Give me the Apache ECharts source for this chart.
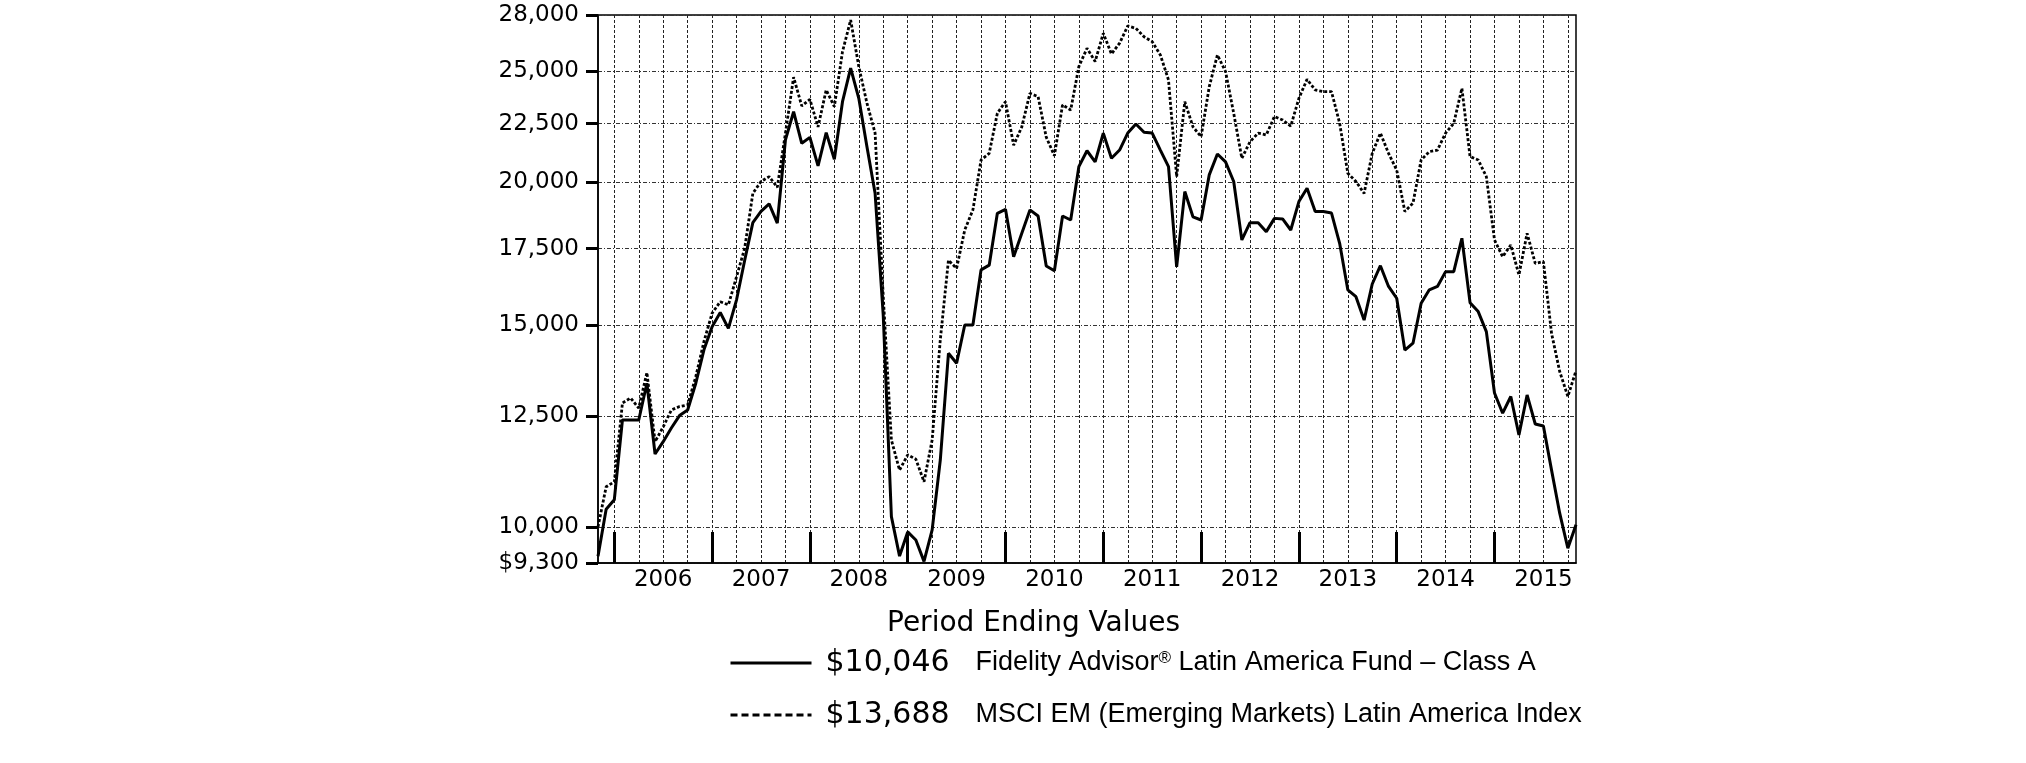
<!DOCTYPE html>
<html>
<head>
<meta charset="utf-8">
<script src="https://cdn.jsdelivr.net/npm/echarts@6/dist/echarts.min.js"></script>
<style>
html,body{margin:0;padding:0;background:#fff;}
#chart{width:2026px;height:763px;}
</style>
</head>
<body>
<div id="chart"></div>
<script>
// Monthly period ends, Oct 2005 .. Oct 2015
const startYear = 2005, startMonth = 10, monthCount = 121;
const categories = [];
for (let i = 0; i < monthCount; i++) {
  const m = ((startMonth - 1 + i) % 12) + 1;
  const y = startYear + Math.floor((startMonth - 1 + i) / 12);
  categories.push(y + '-' + (m < 10 ? '0' + m : '' + m));
}

const fundName = 'Fidelity Advisor® Latin America Fund – Class A';
const indexName = 'MSCI EM (Emerging Markets) Latin America Index';

const fundValues = [
  9425, 10360, 10560, 12400, 12400, 12400, 13350, 11580, 11870, 12200, 12510, 12650,
  13350, 14280, 14960, 15390, 14910, 15790, 17100, 18440, 18860, 19150, 18420, 21780,
  23050, 21630, 21890, 20670, 22100, 20950, 23520, 25160, 23680, 21480, 19560, 15300,
  10210, 9430, 9900, 9740, 9330, 9940, 11440, 14180, 13900, 15010, 15010, 16770,
  16930, 18790, 18940, 17220, 18050, 18920, 18690, 16900, 16740, 18690, 18540, 20640,
  21310, 20840, 22080, 20990, 21340, 22080, 22490, 22120, 22080, 21340, 20640, 16870,
  19630, 18660, 18540, 20300, 21170, 20840, 20030, 17810, 18440, 18440, 18110, 18600,
  18580, 18170, 19240, 19760, 18860, 18860, 18800, 17690, 16110, 15890, 15160, 16300,
  16910, 16220, 15840, 14270, 14470, 15680, 16110, 16220, 16710, 16710, 17870, 15700,
  15420, 14810, 13090, 12570, 13000, 12030, 13040, 12300, 12250, 11210, 10280, 9580,
  10046
];

const indexValues = [
  10000, 10840, 10950, 12830, 12960, 12700, 13640, 11870, 12230, 12650, 12740, 12780,
  13530, 14520, 15370, 15730, 15630, 16540, 17520, 19560, 20030, 20230, 19800, 22080,
  24710, 23320, 23630, 22360, 24080, 23290, 26010, 27720, 25240, 23450, 22080, 15900,
  11910, 11210, 11560, 11460, 10950, 11910, 14570, 17100, 16820, 18170, 18920, 20920,
  21200, 22980, 23520, 21550, 22360, 23920, 23760, 21900, 21100, 23370, 23130, 25240,
  26190, 25500, 26990, 25890, 26460, 27390, 27260, 26800, 26540, 25840, 24570, 20230,
  23520, 22360, 21920, 24240, 25840, 24990, 22980, 20990, 21700, 22080, 22000, 22830,
  22670, 22390, 23680, 24600, 24080, 24000, 24000, 22520, 20370, 20030, 19560, 21200,
  22080, 21200, 20500, 18860, 19180, 20920, 21270, 21340, 22080, 22520, 24160, 21060,
  20920, 20230, 17810, 17220, 17630, 16600, 18050, 16990, 17050, 14760, 13670, 13000,
  13688
];

const yTickValues = [9300, 10000, 12500, 15000, 17500, 20000, 22500, 25000, 28000];
const yearLabels = ['2006', '2007', '2008', '2009', '2010', '2011', '2012', '2013', '2014', '2015'];
const titleText = 'Period Ending Values';

function fmtNum(v) {
  return String(Math.round(v)).replace(/\B(?=(\d{3})+(?!\d))/g, ',');
}
function monthOf(cat) { return parseInt(cat.slice(5), 10); }

const chart = echarts.init(document.getElementById('chart'), null, {renderer: 'canvas'});

const lastVals = {};
lastVals[fundName] = fundValues[fundValues.length - 1];
lastVals[indexName] = indexValues[indexValues.length - 1];

chart.setOption({
  animation: false,
  backgroundColor: '#fff',
  color: ['#000', '#000'],
  title: {
    text: titleText,
    left: 882,
    top: 605,
    textStyle: {fontFamily: 'DejaVu Sans', fontSize: 28, fontWeight: 'normal', color: '#000'}
  },
  legend: {
    orient: 'vertical',
    left: 724,
    top: 643,
    itemWidth: 81,
    itemHeight: 20,
    itemGap: 22,
    selectedMode: false,
    data: [
      {name: fundName, icon: 'inherit', itemStyle: {opacity: 0}, lineStyle: {width: 3, type: 'solid', color: '#000'}},
      {name: indexName, icon: 'inherit', itemStyle: {opacity: 0}, lineStyle: {width: 3, type: [7, 4], color: '#000'}}
    ],
    formatter: function (name) {
      const parts = name.split('®');
      let txt = '{n|' + parts[0] + '}';
      for (let k = 1; k < parts.length; k++) txt += '{r|®}{n|' + parts[k] + '}';
      return '{g| }{v|$' + fmtNum(lastVals[name]) + '}' + txt;
    },
    textStyle: {
      color: '#000',
      rich: {
        g: {width: 9},
        v: {width: 150, fontFamily: 'DejaVu Sans', fontSize: 30, color: '#000', lineHeight: 36},
        n: {fontFamily: 'Liberation Sans', fontSize: 27, color: '#000', lineHeight: 36},
        r: {fontFamily: 'Liberation Sans', fontSize: 17, color: '#000', lineHeight: 36, padding: [0, 0, 10, 0]}
      }
    }
  },
  grid: {
    left: 598, top: 15, right: 450, bottom: 200,
    show: true, borderColor: '#000', borderWidth: 1.5, backgroundColor: 'transparent'
  },
  xAxis: {
    type: 'category',
    data: categories,
    boundaryGap: false,
    axisLine: {lineStyle: {color: '#000', width: 1.5}},
    axisTick: {
      show: true,
      inside: true,
      length: 31,
      interval: function (idx, val) { return monthOf(val) === 12; },
      lineStyle: {color: '#000', width: 3}
    },
    axisLabel: {
      interval: function (idx, val) { return monthOf(val) === 6; },
      formatter: function (val) {
        const y = val.slice(0, 4);
        return yearLabels.indexOf(y) >= 0 ? y : '';
      },
      margin: 6,
      fontFamily: 'DejaVu Sans',
      fontSize: 23,
      color: '#000'
    },
    splitLine: {
      show: true,
      interval: function (idx, val) { return monthOf(val) % 3 === 0; },
      lineStyle: {color: '#222', width: 1, type: [3, 2]}
    }
  },
  yAxis: {
    type: 'log',
    logBase: 10,
    min: 9300,
    max: 28000,
    axisLine: {show: true, lineStyle: {color: '#000', width: 1.5}},
    axisTick: {show: true, length: 12, customValues: yTickValues, lineStyle: {color: '#000', width: 3}},
    axisLabel: {
      customValues: yTickValues,
      margin: 19,
      fontFamily: 'DejaVu Sans',
      fontSize: 23,
      color: '#000',
      formatter: function (v) {
        const r = Math.round(v);
        return (r === yTickValues[0] ? '$' : '') + fmtNum(r);
      }
    },
    splitLine: {show: true, lineStyle: {color: '#333', width: 1, type: [4, 2, 1, 2]}},
    minorSplitLine: {show: false}
  },
  series: [
    {
      name: indexName,
      type: 'line',
      data: indexValues,
      symbol: 'none',
      z: 2,
      itemStyle: {color: '#000'},
      lineStyle: {color: '#000', width: 2.8, type: [3, 2]}
    },
    {
      name: fundName,
      type: 'line',
      data: fundValues,
      symbol: 'none',
      z: 3,
      itemStyle: {color: '#000'},
      lineStyle: {color: '#000', width: 3, type: 'solid'}
    }
  ]
});
</script>
</body>
</html>
